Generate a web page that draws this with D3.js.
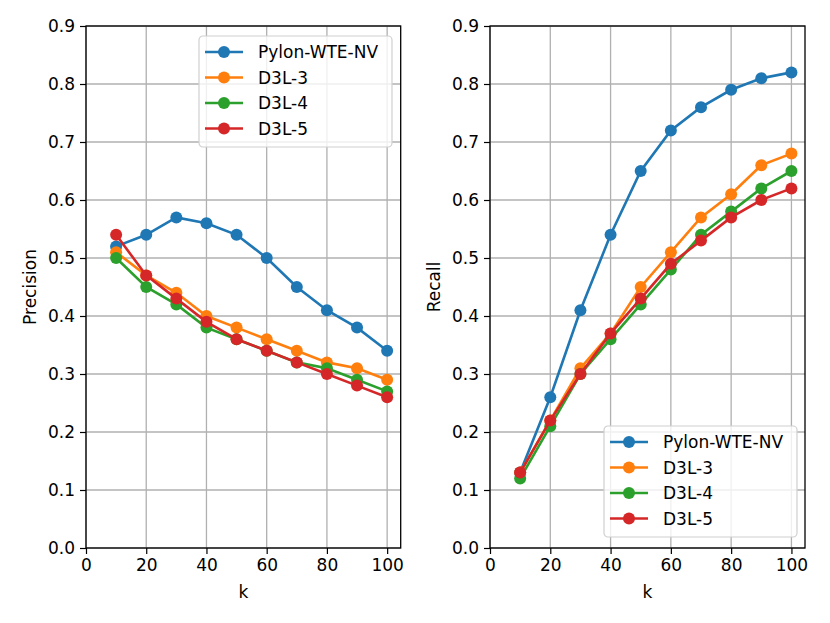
<!DOCTYPE html>
<html lang="en">
<head>
    <meta charset="UTF-8">
    <title>Precision / Recall vs k</title>
    <script src="https://cdn.jsdelivr.net/npm/d3@7"></script>
    <style>
        body { margin: 0; background: #fff; }
        text { font-family: "DejaVu Sans", sans-serif; fill: #000; }
    </style>
</head>
<body>
<script>

    var ks = [10, 20, 30, 40, 50, 60, 70, 80, 90, 100];
    var names = ["Pylon-WTE-NV", "D3L-3", "D3L-4", "D3L-5"];
    var colors = ["#1f77b4", "#ff7f0e", "#2ca02c", "#d62728"];

    var precPylon = [0.52, 0.54, 0.57, 0.56, 0.54, 0.50, 0.45, 0.41, 0.38, 0.34];
    var precD3L3  = [0.51, 0.47, 0.44, 0.40, 0.38, 0.36, 0.34, 0.32, 0.31, 0.29];
    var precD3L4  = [0.50, 0.45, 0.42, 0.38, 0.36, 0.34, 0.32, 0.31, 0.29, 0.27];
    var precD3L5  = [0.54, 0.47, 0.43, 0.39, 0.36, 0.34, 0.32, 0.30, 0.28, 0.26];

    var recPylon = [0.13, 0.26, 0.41, 0.54, 0.65, 0.72, 0.76, 0.79, 0.81, 0.82];
    var recD3L3  = [0.13, 0.22, 0.31, 0.37, 0.45, 0.51, 0.57, 0.61, 0.66, 0.68];
    var recD3L4  = [0.12, 0.21, 0.30, 0.36, 0.42, 0.48, 0.54, 0.58, 0.62, 0.65];
    var recD3L5  = [0.13, 0.22, 0.30, 0.37, 0.43, 0.49, 0.53, 0.57, 0.60, 0.62];

    var xTicks = [0, 20, 40, 60, 80, 100];
    var yTicks = [0, 0.1, 0.2, 0.3, 0.4, 0.5, 0.6, 0.7, 0.8, 0.9];

    var W = 830, H = 623;
    var plotTop = 26, plotBottom = 548;

    var svg = d3.select("body").append("svg")
            .attr("width", W)
            .attr("height", H);

    function panel(left, right, ylabel, series, legendPos) {
        var x = d3.scaleLinear().domain([0, 104.5]).range([left, right]);
        var y = d3.scaleLinear().domain([0, 0.9]).range([plotBottom, plotTop]);
        var g = svg.append("g");

        // grid
        g.selectAll(".gx").data(xTicks).enter().append("line")
                .attr("x1", function(d) { return x(d); })
                .attr("x2", function(d) { return x(d); })
                .attr("y1", plotTop).attr("y2", plotBottom)
                .style("stroke", "#b0b0b0").style("stroke-width", 1.3);
        g.selectAll(".gy").data(yTicks).enter().append("line")
                .attr("y1", function(d) { return y(d); })
                .attr("y2", function(d) { return y(d); })
                .attr("x1", left).attr("x2", right)
                .style("stroke", "#b0b0b0").style("stroke-width", 1.3);

        // series
        var line = d3.line()
                .x(function(d) { return x(d[0]); })
                .y(function(d) { return y(d[1]); });
        series.forEach(function(vals, i) {
            var pts = ks.map(function(k, j) { return [k, vals[j]]; });
            g.append("path").datum(pts)
                    .attr("d", line)
                    .style("fill", "none")
                    .style("stroke", colors[i])
                    .style("stroke-width", 2.6);
            g.selectAll(".m" + i).data(pts).enter().append("circle")
                    .attr("cx", function(d) { return x(d[0]); })
                    .attr("cy", function(d) { return y(d[1]); })
                    .attr("r", 6)
                    .style("fill", colors[i]);
        });

        // axes
        var ax = g.append("g").attr("transform", "translate(0," + plotBottom + ")")
                .call(d3.axisBottom(x).tickValues(xTicks).tickSize(6).tickPadding(5)
                        .tickFormat(d3.format("d")));
        var ay = g.append("g").attr("transform", "translate(" + left + ",0)")
                .call(d3.axisLeft(y).tickValues(yTicks).tickSize(6).tickPadding(5)
                        .tickFormat(d3.format(".1f")));
        [ax, ay].forEach(function(a) {
            a.select(".domain").remove();
            a.selectAll("line").style("stroke", "#000").style("stroke-width", 1.2);
            a.selectAll("text").style("font-size", "17px")
                    .style("font-family", "DejaVu Sans, sans-serif");
        });

        g.append("rect")
                .attr("x", left).attr("y", plotTop)
                .attr("width", right - left).attr("height", plotBottom - plotTop)
                .style("fill", "none").style("stroke", "#000").style("stroke-width", 1.3);

        g.append("text")
                .attr("x", (left + right) / 2).attr("y", 598)
                .attr("text-anchor", "middle")
                .style("font-size", "17px")
                .text("k");
        g.append("text")
                .attr("transform", "translate(" + (left - 50) + "," + ((plotTop + plotBottom) / 2) + ") rotate(-90)")
                .attr("text-anchor", "middle")
                .style("font-size", "17px")
                .text(ylabel);

        // legend
        var lg = g.append("g").attr("transform", "translate(" + legendPos[0] + "," + legendPos[1] + ")");
        lg.append("rect")
                .attr("width", 193).attr("height", 111)
                .attr("rx", 4)
                .style("fill", "#fff").style("fill-opacity", 0.8)
                .style("stroke", "#d0d0d0").style("stroke-width", 1.2);
        var rows = lg.selectAll(".row").data(names).enter().append("g")
                .attr("transform", function(d, i) { return "translate(0," + (16 + i * 25.5) + ")"; });
        rows.append("line")
                .attr("x1", 6).attr("x2", 44)
                .style("stroke", function(d, i) { return colors[i]; })
                .style("stroke-width", 2.6);
        rows.append("circle")
                .attr("cx", 25).attr("r", 6)
                .style("fill", function(d, i) { return colors[i]; });
        rows.append("text")
                .attr("x", 59).attr("dy", "0.36em")
                .style("font-size", "17px")
                .text(function(d) { return d; });
    }

    panel(86, 400.7, "Precision", [precPylon, precD3L3, precD3L4, precD3L5], [199, 36]);
    panel(490, 805, "Recall", [recPylon, recD3L3, recD3L4, recD3L5], [604, 426]);

</script>
</body>
</html>
